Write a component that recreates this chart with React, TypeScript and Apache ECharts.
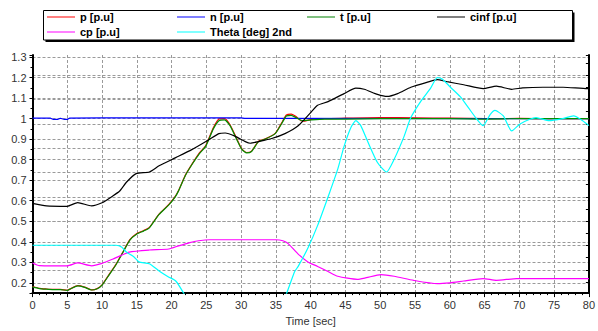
import React, { useEffect, useRef } from "react";
import * as echarts from "echarts";

const FONT = "'Liberation Sans', Arial, sans-serif";

const legendRow1 = ["p [p.u]", "n [p.u]", "t [p.u]", "cinf [p.u]"];
const legendRow2 = ["cp [p.u]", "Theta [deg] 2nd"];

const pData: [number, number][] = [
  [0, 0.182], [1, 0.173], [2, 0.17], [3, 0.168], [4, 0.168], [5, 0.164], [5.5, 0.172], [6.5, 0.186],
  [7.5, 0.179], [8.5, 0.166], [9.3, 0.172], [10, 0.19], [11, 0.24], [12, 0.29], [13, 0.35], [14, 0.41],
  [15, 0.44], [16, 0.455], [16.8, 0.47], [18.2, 0.535], [19.6, 0.582], [20.5, 0.62], [21, 0.65],
  [22, 0.726], [23, 0.782], [24, 0.833], [24.9, 0.868], [26, 0.955], [26.8, 0.998], [27.6, 1.0],
  [28.4, 0.97], [29.4, 0.9], [30.1, 0.852], [30.8, 0.835], [31.5, 0.842], [32.5, 0.89], [33.4, 0.9],
  [34.9, 0.928], [35.8, 0.978], [36.5, 1.018], [37.2, 1.022], [37.9, 1.01], [38.6, 0.99], [39.1, 0.988],
  [40.1, 0.996], [42, 1.0], [45, 1.002], [50, 1.005], [55, 1.004], [60, 1.002], [65, 1.0], [70, 1.001],
  [75, 1.0], [80, 1.0],
];

const nData: [number, number][] = [
  [0, 1.002], [2.6, 1.002], [3, 0.996], [3.6, 0.996], [4, 1.002], [4.6, 0.996], [5, 0.996], [5.3, 1.002],
  [10, 1.004], [30, 1.004], [30.5, 1.001], [80, 1.0],
];

const tData: [number, number][] = [
  [0, 0.18], [1, 0.172], [2, 0.169], [3, 0.167], [4, 0.167], [5, 0.163], [5.5, 0.171], [6.5, 0.185],
  [7.5, 0.178], [8.5, 0.165], [9.3, 0.171], [10, 0.189], [11, 0.238], [12, 0.288], [13, 0.348], [14, 0.408],
  [15, 0.438], [16, 0.453], [16.8, 0.468], [18.2, 0.533], [19.6, 0.58], [20.5, 0.618], [21, 0.648],
  [22, 0.724], [23, 0.78], [24, 0.83], [24.9, 0.865], [26, 0.95], [26.8, 0.99], [27.6, 0.994],
  [28.4, 0.966], [29.4, 0.896], [30.1, 0.85], [30.8, 0.833], [31.5, 0.84], [32.5, 0.888], [33.4, 0.899],
  [34.9, 0.927], [35.8, 0.974], [36.5, 1.013], [37.2, 1.016], [37.9, 1.005], [38.6, 0.992], [39.1, 0.99],
  [40.1, 0.994], [42, 0.998], [45, 0.998], [50, 1.0], [55, 1.0], [60, 1.0], [65, 0.998], [70, 1.0],
  [75, 1.0], [80, 1.0],
];

const cinfData: [number, number][] = [
  [0, 0.587], [2, 0.575], [5, 0.573], [6.5, 0.591], [8.5, 0.575], [10, 0.59], [11.5, 0.622], [12.5, 0.646],
  [13.5, 0.69], [14.9, 0.732], [16.8, 0.74], [18.2, 0.77], [20.6, 0.81], [22.9, 0.849], [25.3, 0.896],
  [26.8, 0.927], [27.7, 0.93], [29.1, 0.915], [30.6, 0.888], [31.3, 0.88], [32.5, 0.888], [34.4, 0.903],
  [36.3, 0.927], [38.2, 0.965], [40.1, 1.033], [41, 1.065], [42.5, 1.083], [44.8, 1.122], [46.5, 1.149],
  [47.7, 1.143], [49.6, 1.118], [51, 1.108], [52.5, 1.122], [54.4, 1.153], [56.7, 1.177], [58.2, 1.19],
  [59.6, 1.18], [62, 1.165], [64.8, 1.146], [66.7, 1.158], [68.9, 1.143], [70.5, 1.15], [73.4, 1.153],
  [76.3, 1.153], [79.8, 1.146], [80, 1.146],
];

const cpData: [number, number][] = [
  [0, 0.297], [1, 0.284], [3, 0.283], [5, 0.283], [6.5, 0.297], [8.5, 0.283], [10, 0.295], [11.5, 0.315],
  [12.5, 0.33], [13.9, 0.35], [16.8, 0.36], [19.6, 0.365], [21, 0.38], [22.5, 0.395], [23.9, 0.405],
  [25.5, 0.41], [30, 0.41], [35, 0.41], [36, 0.405], [36.8, 0.39], [38.2, 0.34], [39.6, 0.302], [41, 0.28],
  [42.5, 0.255], [43.9, 0.232], [46.7, 0.217], [48, 0.225], [50.1, 0.24], [52, 0.232], [54.8, 0.212],
  [58.2, 0.196], [60, 0.2], [62, 0.209], [64.8, 0.221], [66.7, 0.212], [69.6, 0.221], [80, 0.221],
];

const thetaData: [number, number][] = [
  [0, 0.383], [12, 0.383], [12.8, 0.375], [13.5, 0.35], [14.6, 0.326], [15.3, 0.302], [16.8, 0.293],
  [18.2, 0.258], [19.5, 0.23], [20.6, 0.209], [21.8, 0.146], [22.5, 0.1], [35.8, 0.1], [36.5, 0.146],
  [37.7, 0.255], [38.2, 0.28], [39.6, 0.37], [41, 0.48], [42.7, 0.638], [43.9, 0.755], [44.8, 0.865],
  [45.8, 0.958], [46.5, 0.99], [47.2, 0.966], [48.2, 0.888], [49.6, 0.786], [50.9, 0.74], [52, 0.802],
  [53.4, 0.911], [54.4, 1.005], [55.8, 1.083], [57.2, 1.146], [58.2, 1.2], [58.9, 1.193], [60.1, 1.153],
  [61.5, 1.107], [62.7, 1.052], [63.9, 0.997], [64.8, 0.966], [65.8, 1.02], [66.5, 1.04], [67.7, 1.013],
  [68.9, 0.94], [70.1, 0.974], [71.5, 0.997], [72.4, 1.005], [74.3, 0.99], [76.2, 1.0], [77.8, 1.013],
  [79.1, 0.99], [80, 0.966],
];

const seriesColors: Record<string, string> = {
  "p [p.u]": "#ff0000",
  "n [p.u]": "#0000ff",
  "t [p.u]": "#009000",
  "cinf [p.u]": "#000000",
  "cp [p.u]": "#ff00ff",
  "Theta [deg] 2nd": "#00ffff",
};
const legendColors: Record<string, string> = {
  "p [p.u]": "#ff8080",
  "n [p.u]": "#8080ff",
  "t [p.u]": "#80c080",
  "cinf [p.u]": "#808080",
  "cp [p.u]": "#ff80ff",
  "Theta [deg] 2nd": "#80ffff",
};

const gridLine = { show: true, lineStyle: { color: "#9a9a9a", type: [3, 2] as number[], width: 1 }, showMinLine: false, showMaxLine: false };

function legendItem(name: string, col: number, top: number) {
  return {
    left: 47 + col * 130,
    top,
    padding: 0,
    itemGap: 0,
    itemWidth: 28,
    itemHeight: 2,
    icon: "rect",
    selectedMode: false,
    data: [name],
    itemStyle: { color: legendColors[name], borderWidth: 0 },
    textStyle: { fontSize: 11, fontWeight: "bold", fontFamily: FONT, color: "#000" },
    z: 10,
  };
}

export default function App() {
  const ref = useRef<HTMLDivElement>(null);
  useEffect(() => {
    const chart = echarts.init(ref.current!, undefined, { renderer: "svg" });
    const mk = (name: string, data: [number, number][], smooth: number | boolean) => ({
      name,
      type: "line",
      data,
      yAxisIndex: 0,
      showSymbol: false,
      symbol: "none",
      smooth,
      clip: true,
      lineStyle: { color: seriesColors[name], width: 1.2 },
      itemStyle: { color: seriesColors[name] },
    });
    chart.setOption({
      animation: false,
      backgroundColor: "#fff",
      textStyle: { fontFamily: FONT },
      grid: { left: 32.5, right: 5, top: 55, bottom: 28.5 },
      graphic: [
        { type: "rect", shape: { x: 45.5, y: 12.5, width: 529, height: 29.5 }, style: { fill: "#000" }, z: 0 },
        { type: "rect", shape: { x: 43.5, y: 10.5, width: 529, height: 29.5 }, style: { fill: "#fff", stroke: "#000", lineWidth: 1 }, z: 1 },
      ],
      legend: [
        ...legendRow1.map((n, i) => legendItem(n, i, 11.5)),
        ...legendRow2.map((n, i) => legendItem(n, i, 26.5)),
      ],
      xAxis: {
        type: "value",
        min: 0,
        max: 80,
        interval: 5,
        name: "Time [sec]",
        nameLocation: "middle",
        nameGap: 17,
        nameTextStyle: { fontSize: 11, color: "#333", fontFamily: FONT },
        axisLine: { show: true, lineStyle: { color: "#000", width: 2 } },
        axisTick: { show: true, length: 4, lineStyle: { color: "#000" } },
        minorTick: { show: true, splitNumber: 5, length: 2, lineStyle: { color: "#000" } },
        axisLabel: { fontSize: 11, color: "#333", fontFamily: FONT, margin: 6 },
        splitLine: gridLine,
      },
      yAxis: [
        {
          type: "value",
          min: 0.15,
          max: 1.31,
          splitNumber: 12,
          axisLine: { show: true, lineStyle: { color: "#000", width: 2 } },
          axisTick: { show: true, length: 3, lineStyle: { color: "#000" } },
          minorTick: { show: true, splitNumber: 2, length: 2, lineStyle: { color: "#000" } },
          axisLabel: { fontSize: 11, color: "#333", fontFamily: FONT, margin: 6, showMinLabel: false, showMaxLabel: false },
          splitLine: gridLine,
        },
        {
          type: "value",
          position: "right",
          min: 0.043,
          max: 9.826,
          splitNumber: 10,
          axisLine: { show: true, lineStyle: { color: "#000", width: 2 } },
          axisTick: { show: true, inside: true, length: 3, lineStyle: { color: "#000" } },
          minorTick: { show: true, splitNumber: 2, length: 3, lineStyle: { color: "#000" } },
          axisLabel: { show: false },
          splitLine: gridLine,
        },
      ],
      series: [
        mk("p [p.u]", pData, 0.2),
        mk("n [p.u]", nData, false),
        mk("t [p.u]", tData, 0.2),
        mk("cinf [p.u]", cinfData, 0.2),
        mk("cp [p.u]", cpData, 0.2),
        mk("Theta [deg] 2nd", thetaData, 0.2),
      ],
    });
    return () => chart.dispose();
  }, []);
  return (
    <div
      ref={ref}
      style={{ position: "fixed", left: 0, top: 0, width: 598, height: 331, background: "#fff" }}
    />
  );
}
